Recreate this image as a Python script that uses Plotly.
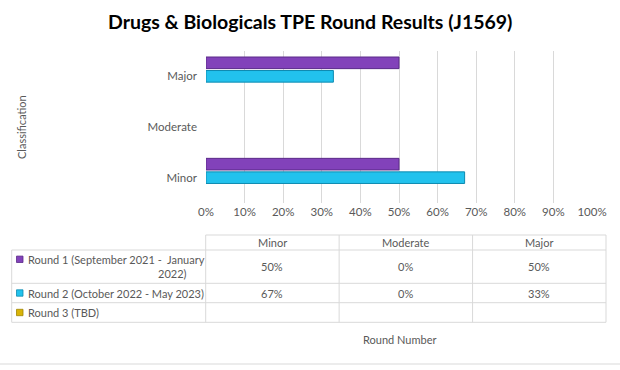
import plotly.graph_objects as go

# ---------------- data ----------------
categories = ["Major", "Moderate", "Minor"]          # top to bottom
table_columns = ["Minor", "Moderate", "Major"]
series_names = ["Round 1 (September 2021 -  January 2022)",
                "Round 2 (October 2022 - May 2023)",
                "Round 3 (TBD)"]
round1 = {"Minor": 0.50, "Moderate": 0.00, "Major": 0.50}
round2 = {"Minor": 0.67, "Moderate": 0.00, "Major": 0.33}
round3 = {"Minor": None, "Moderate": None, "Major": None}
x_ticks = [0, 0.1, 0.2, 0.3, 0.4, 0.5, 0.6, 0.7, 0.8, 0.9, 1.0]
title_text = "Drugs & Biologicals TPE Round Results (J1569)"
y_title = "Classification"
x_title = "Round Number"

series_values = [round1, round2, round3]
fills = ["#8242ba", "#22c2ed", "#d9b408"]
edges = ["#5a2a88", "#0e8ab0", "#a08400"]

W, H = 620, 370
L, R, T, B = 206, 28, 51, 167
PW, PH = W - L - R, H - T - B

def px(xp):
    return (xp - L) / PW

def py(yp):
    return (H - B - yp) / PH

TXT = "#595959"
GRID = "#d9d9d9"
FONT = "Lato"
FS = 11

fig = go.Figure()
for name, vals, fc, ec in zip(series_names, series_values, fills, edges):
    xs = [vals[c] for c in categories]
    fig.add_trace(go.Bar(
        y=categories,
        x=xs,
        name=name,
        orientation="h",
        marker=dict(color=fc, line=dict(color=ec, width=[1 if v else 0 for v in xs])),
        showlegend=False,
        hoverinfo="skip",
    ))

fig.update_layout(
    width=W, height=H,
    margin=dict(l=L, r=R, t=T, b=B, autoexpand=False),
    paper_bgcolor="white", plot_bgcolor="white",
    barmode="group", bargap=0.2, bargroupgap=0.14,
    font=dict(family=FONT, size=FS, color=TXT),
)
fig.update_xaxes(range=[0, 1], tickvals=x_ticks, tickformat=".0%",
                 showgrid=True, gridcolor=GRID, gridwidth=1,
                 zeroline=False, showline=False, ticks="",
                 tickfont=dict(size=11.5, color=TXT), fixedrange=True)
fig.update_yaxes(categoryorder="array", categoryarray=categories,
                 autorange="reversed", showgrid=False, zeroline=False,
                 showline=False, ticks="", ticklabelstandoff=8,
                 tickfont=dict(size=11.5, color=TXT), fixedrange=True)

# Title
fig.add_annotation(text=f"<b>{title_text}</b>", x=px(310), y=py(22),
                   xref="paper", yref="paper", showarrow=False,
                   font=dict(family=FONT, size=19.5, color="#000000"),
                   xanchor="center", yanchor="middle")
# Y axis title
fig.add_annotation(text=y_title, x=px(21), y=py(127), xref="paper", yref="paper",
                   showarrow=False, textangle=-90, font=dict(size=FS, color=TXT),
                   xanchor="center", yanchor="middle")

# ---------------- data table ----------------
x_left, x_c0 = 11.7, 205.7
col_w = (606 - 205.7) / 3
col_edges = [x_c0 + i * col_w for i in range(4)]
row_edges = [235, 250, 283.3, 302.7, 322.3]

def hline(y, x0, x1):
    fig.add_shape(type="line", xref="paper", yref="paper",
                  x0=px(x0), x1=px(x1), y0=py(y), y1=py(y),
                  line=dict(color=GRID, width=1))

def vline(x, y0, y1):
    fig.add_shape(type="line", xref="paper", yref="paper",
                  x0=px(x), x1=px(x), y0=py(y0), y1=py(y1),
                  line=dict(color=GRID, width=1))

hline(row_edges[0], col_edges[0], col_edges[-1])
for y in row_edges[1:]:
    hline(y, x_left, col_edges[-1])
vline(x_left, row_edges[1], row_edges[-1])
for x in col_edges:
    vline(x, row_edges[0], row_edges[-1])

for i, c in enumerate(table_columns):
    fig.add_annotation(text=c, x=px((col_edges[i] + col_edges[i + 1]) / 2),
                       y=py((row_edges[0] + row_edges[1]) / 2),
                       xref="paper", yref="paper", showarrow=False,
                       font=dict(size=FS, color=TXT), xanchor="center", yanchor="middle")

for r, (name, vals, fc, ec) in enumerate(zip(series_names, series_values, fills, edges)):
    y0, y1 = row_edges[r + 1], row_edges[r + 2]
    if r == 0:
        first, second = name.rsplit(" ", 1)
        ty = y0 + 9.3
        fig.add_annotation(text=first, x=px(26), y=py(ty), xref="paper", yref="paper",
                           showarrow=False, font=dict(size=FS, color=TXT),
                           xanchor="left", yanchor="middle")
        fig.add_annotation(text=second, x=px(172), y=py(ty + 14), xref="paper", yref="paper",
                           showarrow=False, font=dict(size=FS, color=TXT),
                           xanchor="center", yanchor="middle")
    else:
        ty = (y0 + y1) / 2
        fig.add_annotation(text=name, x=px(26), y=py(ty), xref="paper", yref="paper",
                           showarrow=False, font=dict(size=FS, color=TXT),
                           xanchor="left", yanchor="middle")
    fig.add_shape(type="rect", xref="paper", yref="paper",
                  x0=px(16.5), x1=px(23), y0=py(ty - 3.2), y1=py(ty + 3.2),
                  fillcolor=fc, line=dict(color=ec, width=0.8))
    for i, c in enumerate(table_columns):
        v = vals[c]
        if v is None:
            continue
        fig.add_annotation(text=f"{round(v * 100)}%",
                           x=px((col_edges[i] + col_edges[i + 1]) / 2),
                           y=py((y0 + y1) / 2), xref="paper", yref="paper",
                           showarrow=False, font=dict(size=FS, color=TXT),
                           xanchor="center", yanchor="middle")

# X axis title (below table)
fig.add_annotation(text=x_title, x=px(399), y=py(339), xref="paper", yref="paper",
                   showarrow=False, font=dict(size=FS, color=TXT),
                   xanchor="center", yanchor="middle")
# chart border bottom
hline(364, 0, W)

fig.write_html("out.html", config={"displayModeBar": False, "staticPlot": True},
               post_script="document.body.style.margin='0';document.body.style.padding='0';")
